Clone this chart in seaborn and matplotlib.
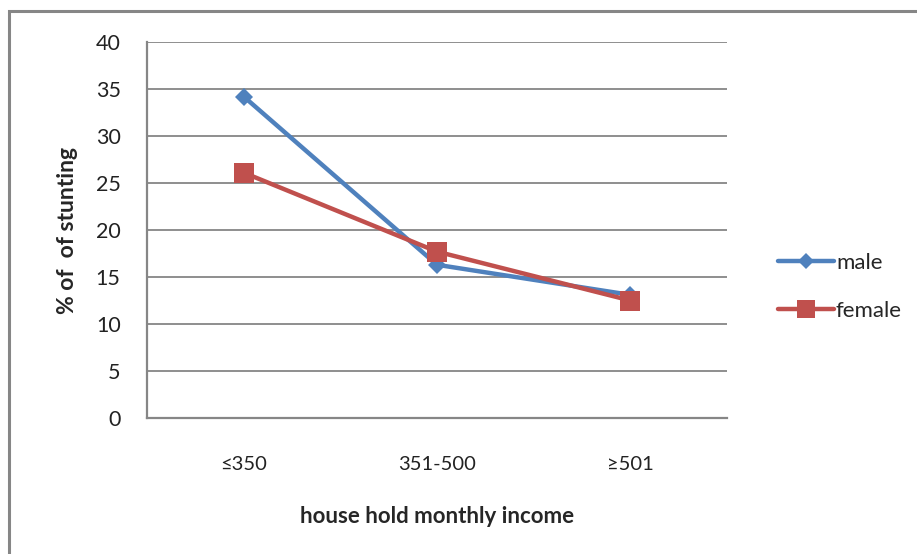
import matplotlib
matplotlib.use("Agg")
import matplotlib.pyplot as plt
import seaborn as sns
import pandas as pd
from matplotlib.patches import Rectangle
from matplotlib.lines import Line2D

categories = ["≤350", "351-500", "≥501"]
male = [34.2, 16.3, 13.1]
female = [26.1, 17.7, 12.5]
series_names = ["male", "female"]

df = pd.DataFrame({
    "income": categories * 2,
    "value": male + female,
    "sex": [series_names[0]] * 3 + [series_names[1]] * 3,
})

sns.set_style("white")
plt.rcParams["font.family"] = ["Lato", "DejaVu Sans"]

fig = plt.figure(figsize=(9.17, 5.54), dpi=100)
ax = fig.add_axes([147 / 917, 1 - 418 / 554, 580 / 917, 376 / 554])

grid_c = "#868686"
blue = "#4F81BD"
red = "#C0504D"

df["x"] = df["income"].map({c: i for i, c in enumerate(categories)})
sns.lineplot(data=df[df.sex == "male"], x="x", y="value", ax=ax, color=blue,
             marker="D", markersize=9, linewidth=3.2, markeredgewidth=0, legend=False)
sns.lineplot(data=df[df.sex == "female"], x="x", y="value", ax=ax, color=red,
             marker="s", markersize=14, linewidth=3.2, markeredgewidth=0, legend=False)

ax.set_xlim(-0.5, 2.5)
ax.set_ylim(0, 40)
ax.set_yticks(range(0, 41, 5))
ax.yaxis.grid(True, color=grid_c, linewidth=1.3)
ax.xaxis.grid(False)
ax.set_axisbelow(True)

for s in ["top", "right"]:
    ax.spines[s].set_visible(False)
for s in ["left", "bottom"]:
    ax.spines[s].set_color(grid_c)
    ax.spines[s].set_linewidth(1.6)

ax.set_xticks([0, 1, 2])
ax.set_xticklabels(categories, fontsize=14.5, color="#222222")
ax.tick_params(axis="x", length=0, pad=27)
ax.set_xticks([-0.5, 0.5, 1.5, 2.5], minor=True)
ax.tick_params(axis="x", which="minor", length=8, width=1.3, color=grid_c, direction="out")
ax.tick_params(axis="y", length=8, width=1.3, color=grid_c, direction="out", labelsize=15.5,
               labelcolor="#222222", pad=11)

ax.set_xlabel("house hold monthly income", fontsize=16, fontweight="bold", labelpad=24)
ax.set_ylabel("% of  of stunting", fontsize=16.5, fontweight="bold", labelpad=13)

handles = [
    Line2D([], [], color=blue, marker="D", markersize=8, linewidth=3.2, markeredgewidth=0),
    Line2D([], [], color=red, marker="s", markersize=13, linewidth=3.2, markeredgewidth=0),
]
fig.legend(handles, series_names, loc="center left", bbox_to_anchor=(767 / 917, 1 - 287 / 554),
           frameon=False, fontsize=16, handlelength=2.5, handletextpad=0.1, labelspacing=1.25,
           borderpad=0)

fig.patches.append(Rectangle((8.5 / 917, -0.1), 1.2, 1 - 11 / 554 + 0.1, transform=fig.transFigure,
                             fill=False, edgecolor=grid_c, linewidth=2.2, figure=fig))

fig.savefig("out.png", dpi=100)
